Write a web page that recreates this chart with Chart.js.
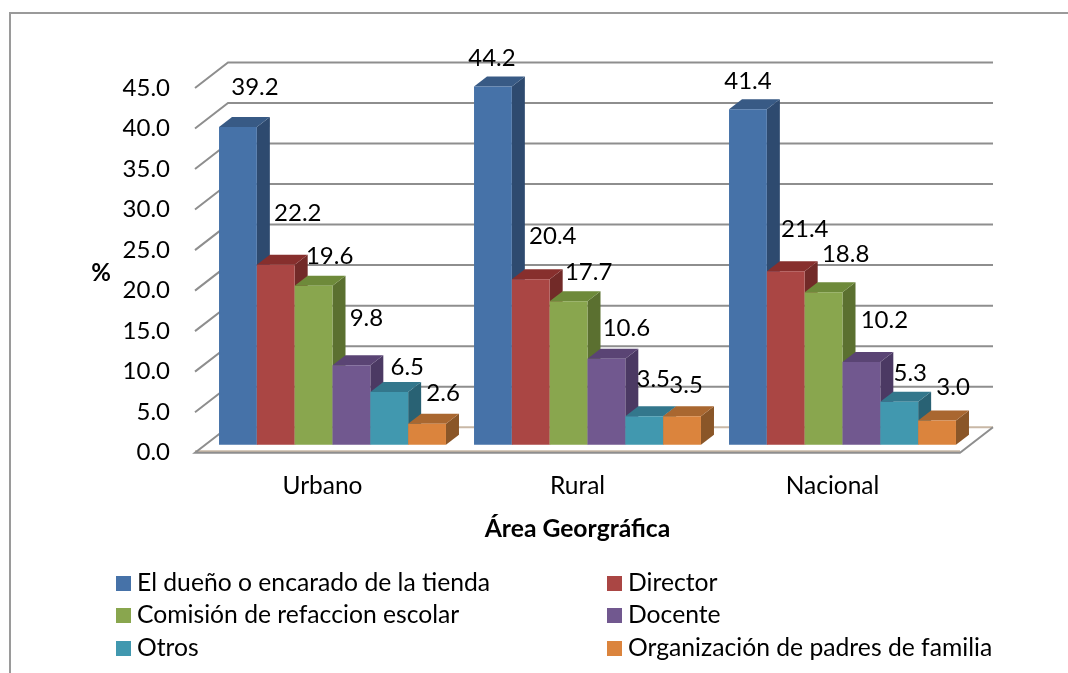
<!DOCTYPE html>
<html><head><meta charset="utf-8">
<style>html,body{margin:0;padding:0;background:#fff;overflow:hidden}canvas{display:block}</style>
<script src="https://cdn.jsdelivr.net/npm/chart.js@4"></script>
</head><body><canvas id="c" width="1068" height="673"></canvas>
<script>
const categories = ["Urbano","Rural","Nacional"];
const seriesNames = ["El dueño o encarado de la tienda","Director","Comisión de refaccion escolar","Docente","Otros","Organización de padres de familia"];
const duenoValues = [39.2,44.2,41.4];
const directorValues = [22.2,20.4,21.4];
const comisionValues = [19.6,17.7,18.8];
const docenteValues = [9.8,10.6,10.2];
const otrosValues = [6.5,3.5,5.3];
const padresValues = [2.6,3.5,3.0];
const seriesValues = [duenoValues,directorValues,comisionValues,docenteValues,otrosValues,padresValues];
const axisTitleX = "Área Georgráfica";
const axisTitleY = "%";

// styling
const FONT = "Lato, Carlito, sans-serif";
const frontColors = ["#4672a8","#aa4644","#89a64e","#71588f","#4198af","#db843d"];
const topColors   = ["#385a85","#872f2d","#6e8a3a","#5a4474","#33778c","#a96730"];
const sideColors  = ["#2e4a6f","#722a28","#5b7030","#4b3963","#296274","#8a5628"];
// hand-placed label offsets from each bar's front-top centre: [series][category]
const labelOffsets = [
 [[17,-40],[-1,-28],[0,-28]],
 [[22,-52],[22,-43],[19,-42]],
 [[16,-30],[20,-29],[22,-38]],
 [[15,-47],[20,-31],[23,-42]],
 [[18,-25],[9,-37],[11,-28]],
 [[16,-30],[4,-31],[16,-33]]
];
const BAR_DX=10, BAR_DY=-8, BAR_DEPTH_X=13, BAR_DEPTH_Y=-10, WALL_DX=33, WALL_DY=-25.5;

const scene = {
  id:'scene',
  beforeDatasetsDraw(chart){
    const {ctx, scales:{y}, chartArea:a} = chart;
    ctx.save();
    // frame
    ctx.strokeStyle='#9a9a9a'; ctx.lineWidth=2;
    ctx.beginPath(); ctx.moveTo(10,673); ctx.lineTo(10,13); ctx.lineTo(1068,13); ctx.stroke();
    // walls
    ctx.strokeStyle='#8e8e8e'; ctx.lineWidth=2;
    y.ticks.forEach(t=>{
      const py=y.getPixelForValue(t.value);
      if(t.value===0) return;
      ctx.beginPath();
      ctx.moveTo(a.left,py); ctx.lineTo(a.left+WALL_DX,py+WALL_DY); ctx.lineTo(a.right+WALL_DX,py+WALL_DY);
      ctx.stroke();
    });
    // floor
    const fy=y.getPixelForValue(0);
    ctx.fillStyle='#fff';
    ctx.beginPath();
    ctx.moveTo(a.left,fy); ctx.lineTo(a.left+WALL_DX,fy+WALL_DY); ctx.lineTo(a.right+WALL_DX,fy+WALL_DY); ctx.lineTo(a.right,fy); ctx.closePath();
    ctx.fill();
    ctx.strokeStyle='#c9b8a6'; ctx.lineWidth=2;
    ctx.beginPath(); ctx.moveTo(a.left+WALL_DX,fy+WALL_DY); ctx.lineTo(a.right+WALL_DX,fy+WALL_DY); ctx.stroke();
    ctx.beginPath(); ctx.moveTo(a.left,fy-1.5); ctx.lineTo(a.right,fy-1.5); ctx.stroke();
    ctx.strokeStyle='#8e8e8e';
    ctx.beginPath(); ctx.moveTo(a.left+WALL_DX,fy+WALL_DY); ctx.lineTo(a.left,fy); ctx.lineTo(a.right,fy); ctx.lineTo(a.right+WALL_DX,fy+WALL_DY); ctx.stroke();
    // bars, left to right so each front covers the previous side
    ctx.translate(BAR_DX,BAR_DY);
    categories.forEach((_,j)=>{
      seriesValues.forEach((__,i)=>{
        const el=chart.getDatasetMeta(i).data[j];
        const l=el.x-el.width/2, r=el.x+el.width/2, t=el.y, b=el.base;
        ctx.fillStyle=sideColors[i];
        ctx.beginPath(); ctx.moveTo(r,b); ctx.lineTo(r+BAR_DEPTH_X,b+BAR_DEPTH_Y); ctx.lineTo(r+BAR_DEPTH_X,t+BAR_DEPTH_Y); ctx.lineTo(r,t); ctx.closePath(); ctx.fill();
        ctx.fillStyle=topColors[i];
        ctx.beginPath(); ctx.moveTo(l,t); ctx.lineTo(l+BAR_DEPTH_X,t+BAR_DEPTH_Y); ctx.lineTo(r+BAR_DEPTH_X,t+BAR_DEPTH_Y); ctx.lineTo(r,t); ctx.closePath(); ctx.fill();
        el.draw(ctx);
      });
    });
    ctx.restore();
  },
  beforeDatasetDraw(){ return false; },
  afterDraw(chart){
    const {ctx}=chart;
    ctx.save();
    ctx.fillStyle='#000';
    ctx.textBaseline='middle';
    // data labels
    ctx.textAlign='center';
    ctx.font='24px '+FONT;
    seriesValues.forEach((vals,i)=>vals.forEach((v,j)=>{
      const el=chart.getDatasetMeta(i).data[j];
      const o=labelOffsets[i][j];
      ctx.fillText(v.toFixed(1), el.x+BAR_DX+o[0], el.y+BAR_DY+o[1]);
    }));
    // y title
    ctx.font='bold 24px '+FONT;
    ctx.fillText(axisTitleY,101,273);
    // legend
    ctx.textAlign='left';
    ctx.font='24.7px '+FONT;
    const legendCols=[116,607], legendRows=[576,608,641];
    chart.data.datasets.forEach((d,i)=>{
      const cx=legendCols[i%2], ry=legendRows[Math.floor(i/2)];
      ctx.fillStyle=d.backgroundColor;
      ctx.fillRect(cx,ry,15,15);
      ctx.fillStyle='#000';
      ctx.fillText(d.label,cx+21,ry+7.5);
    });
    ctx.restore();
  }
};

new Chart(document.getElementById('c'),{
  type:'bar',
  data:{labels:categories,datasets:seriesValues.map((v,i)=>({label:seriesNames[i],data:v,backgroundColor:frontColors[i],borderWidth:0}))},
  plugins:[scene],
  options:{
    responsive:false,animation:false,
    layout:{padding:{left:0,top:88,right:108,bottom:129}},
    plugins:{legend:{display:false},tooltip:{enabled:false}},
    datasets:{bar:{categoryPercentage:0.89,barPercentage:1}},
    scales:{
      x:{
        grid:{display:false},border:{display:false},
        ticks:{color:'#000',font:{family:FONT,size:24.5},padding:11,maxRotation:0},
        title:{display:true,text:axisTitleX,color:'#000',font:{family:FONT,size:24.7,weight:'bold'},padding:{top:3,bottom:0}},
        afterFit(s){s.height=91.3;}
      },
      y:{
        min:0,max:45,
        grid:{display:false},border:{display:false},
        ticks:{stepSize:5,color:'#000',font:{family:FONT,size:24},padding:17,callback:v=>v.toFixed(1)},
        afterFit(s){s.width=195;}
      }
    }
  }
});
</script></body></html>
